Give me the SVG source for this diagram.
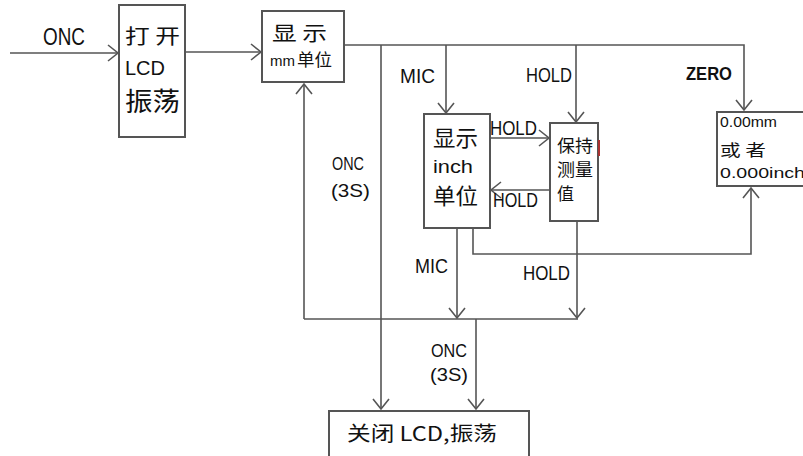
<svg xmlns="http://www.w3.org/2000/svg" width="803" height="456" viewBox="0 0 803 456">
<defs>
<marker id="a" markerUnits="userSpaceOnUse" markerWidth="14" markerHeight="18" viewBox="-12 -9 14 18" refX="0" refY="0" orient="auto">
<path d="M-10,-8 L0,0 L-10,8" fill="none" stroke="#555" stroke-width="1.6"/>
</marker>
</defs>
<style>
.box{fill:#fff;stroke:#555;stroke-width:2}
.ln{fill:none;stroke:#555;stroke-width:1.6}
.ar{marker-end:url(#a)}
.t{font-family:"Liberation Sans","Noto Sans CJK SC",sans-serif;fill:#111}
.c{font-family:"Noto Sans CJK SC","Liberation Sans",sans-serif;fill:#111}
</style>
<rect width="803" height="456" fill="#fff"/>
<g id="connectors">
<path class="ln ar" d="M10,53 H118"/>
<path class="ln ar" d="M186,52 H261"/>
<path class="ln ar" d="M344,45 H744 V110"/>
<path class="ln ar" d="M446,45 V113"/>
<path class="ln ar" d="M576,45 V122"/>
<path class="ln ar" d="M381,45 V409"/>
<path class="ln ar" d="M490,138 H549"/>
<path class="ln ar" d="M550,190 H491"/>
<path class="ln ar" d="M457,228 V318"/>
<path class="ln ar" d="M473,228 V254 H751 V188"/>
<path class="ln ar" d="M577,221 V318"/>
<path class="ln" d="M304,319 H578"/>
<path class="ln ar" d="M304,319 V84"/>
<path class="ln ar" d="M476,319 V409"/>
<text class="t" x="43" y="45" font-size="23" textLength="42" lengthAdjust="spacingAndGlyphs">ONC</text>
<text class="t" x="400" y="83" font-size="20" textLength="35" lengthAdjust="spacingAndGlyphs">MIC</text>
<text class="t" x="526" y="82" font-size="20" textLength="46" lengthAdjust="spacingAndGlyphs">HOLD</text>
<text class="t" x="686" y="80" font-size="19" font-weight="bold" textLength="46" lengthAdjust="spacingAndGlyphs">ZERO</text>
<text class="t" x="490" y="135" font-size="20" textLength="47" lengthAdjust="spacingAndGlyphs">HOLD</text>
<text class="t" x="493" y="207" font-size="20" textLength="45" lengthAdjust="spacingAndGlyphs">HOLD</text>
<text class="t" x="332" y="170" font-size="19" textLength="32" lengthAdjust="spacingAndGlyphs">ONC</text>
<text class="t" x="331" y="197" font-size="19" textLength="39" lengthAdjust="spacingAndGlyphs">(3S)</text>
<text class="t" x="415" y="273" font-size="20" textLength="33" lengthAdjust="spacingAndGlyphs">MIC</text>
<text class="t" x="523" y="280" font-size="20" textLength="47" lengthAdjust="spacingAndGlyphs">HOLD</text>
<text class="t" x="431" y="357" font-size="19" textLength="36" lengthAdjust="spacingAndGlyphs">ONC</text>
<text class="t" x="430" y="381" font-size="19" textLength="38" lengthAdjust="spacingAndGlyphs">(3S)</text>
</g>
<g id="open-lcd">
<rect class="box" x="119" y="5" width="66" height="132"/>
<text class="c" x="125" y="44" font-size="20" textLength="55" lengthAdjust="spacingAndGlyphs">打 开</text>
<text class="t" x="125" y="75" font-size="21" textLength="40" lengthAdjust="spacingAndGlyphs">LCD</text>
<text class="c" x="125" y="111" font-size="26" textLength="55" lengthAdjust="spacingAndGlyphs">振荡</text>
</g>
<g id="show-mm">
<rect class="box" x="262" y="11" width="82" height="71"/>
<text class="c" x="272" y="41" font-size="20" textLength="55" lengthAdjust="spacingAndGlyphs">显 示</text>
<text class="t" x="270" y="66" font-size="15" textLength="25" lengthAdjust="spacingAndGlyphs">mm</text>
<text class="c" x="297" y="66" font-size="17" textLength="35" lengthAdjust="spacingAndGlyphs">单位</text>
</g>
<g id="show-inch">
<rect class="box" x="424" y="114" width="66" height="114"/>
<text class="c" x="433" y="146" font-size="22" textLength="45" lengthAdjust="spacingAndGlyphs">显示</text>
<text class="t" x="433" y="173" font-size="18" textLength="40" lengthAdjust="spacingAndGlyphs">inch</text>
<text class="c" x="433" y="204" font-size="22" textLength="45" lengthAdjust="spacingAndGlyphs">单位</text>
</g>
<g id="hold">
<rect class="box" x="550" y="123" width="48" height="98"/>
<rect x="598" y="140" width="2" height="16" fill="#a33"/>
<text class="c" x="557" y="152" font-size="17" textLength="36" lengthAdjust="spacingAndGlyphs">保持</text>
<text class="c" x="557" y="176" font-size="17" textLength="36" lengthAdjust="spacingAndGlyphs">测量</text>
<text class="c" x="557" y="200" font-size="17">值</text>
</g>
<g id="zero">
<rect class="box" x="717" y="112" width="100" height="74"/>
<text class="t" x="720" y="127" font-size="14" textLength="57" lengthAdjust="spacingAndGlyphs">0.00mm</text>
<text class="c" x="720" y="156" font-size="16" textLength="46" lengthAdjust="spacingAndGlyphs">或 者</text>
<text class="t" x="720" y="178" font-size="15" textLength="85" lengthAdjust="spacingAndGlyphs">0.000inch</text>
</g>
<g id="close-lcd">
<rect class="box" x="329" y="411" width="200" height="60"/>
<text class="c" x="347" y="441" font-size="20" textLength="150" lengthAdjust="spacingAndGlyphs">关闭 LCD,振荡</text>
</g>
</svg>
